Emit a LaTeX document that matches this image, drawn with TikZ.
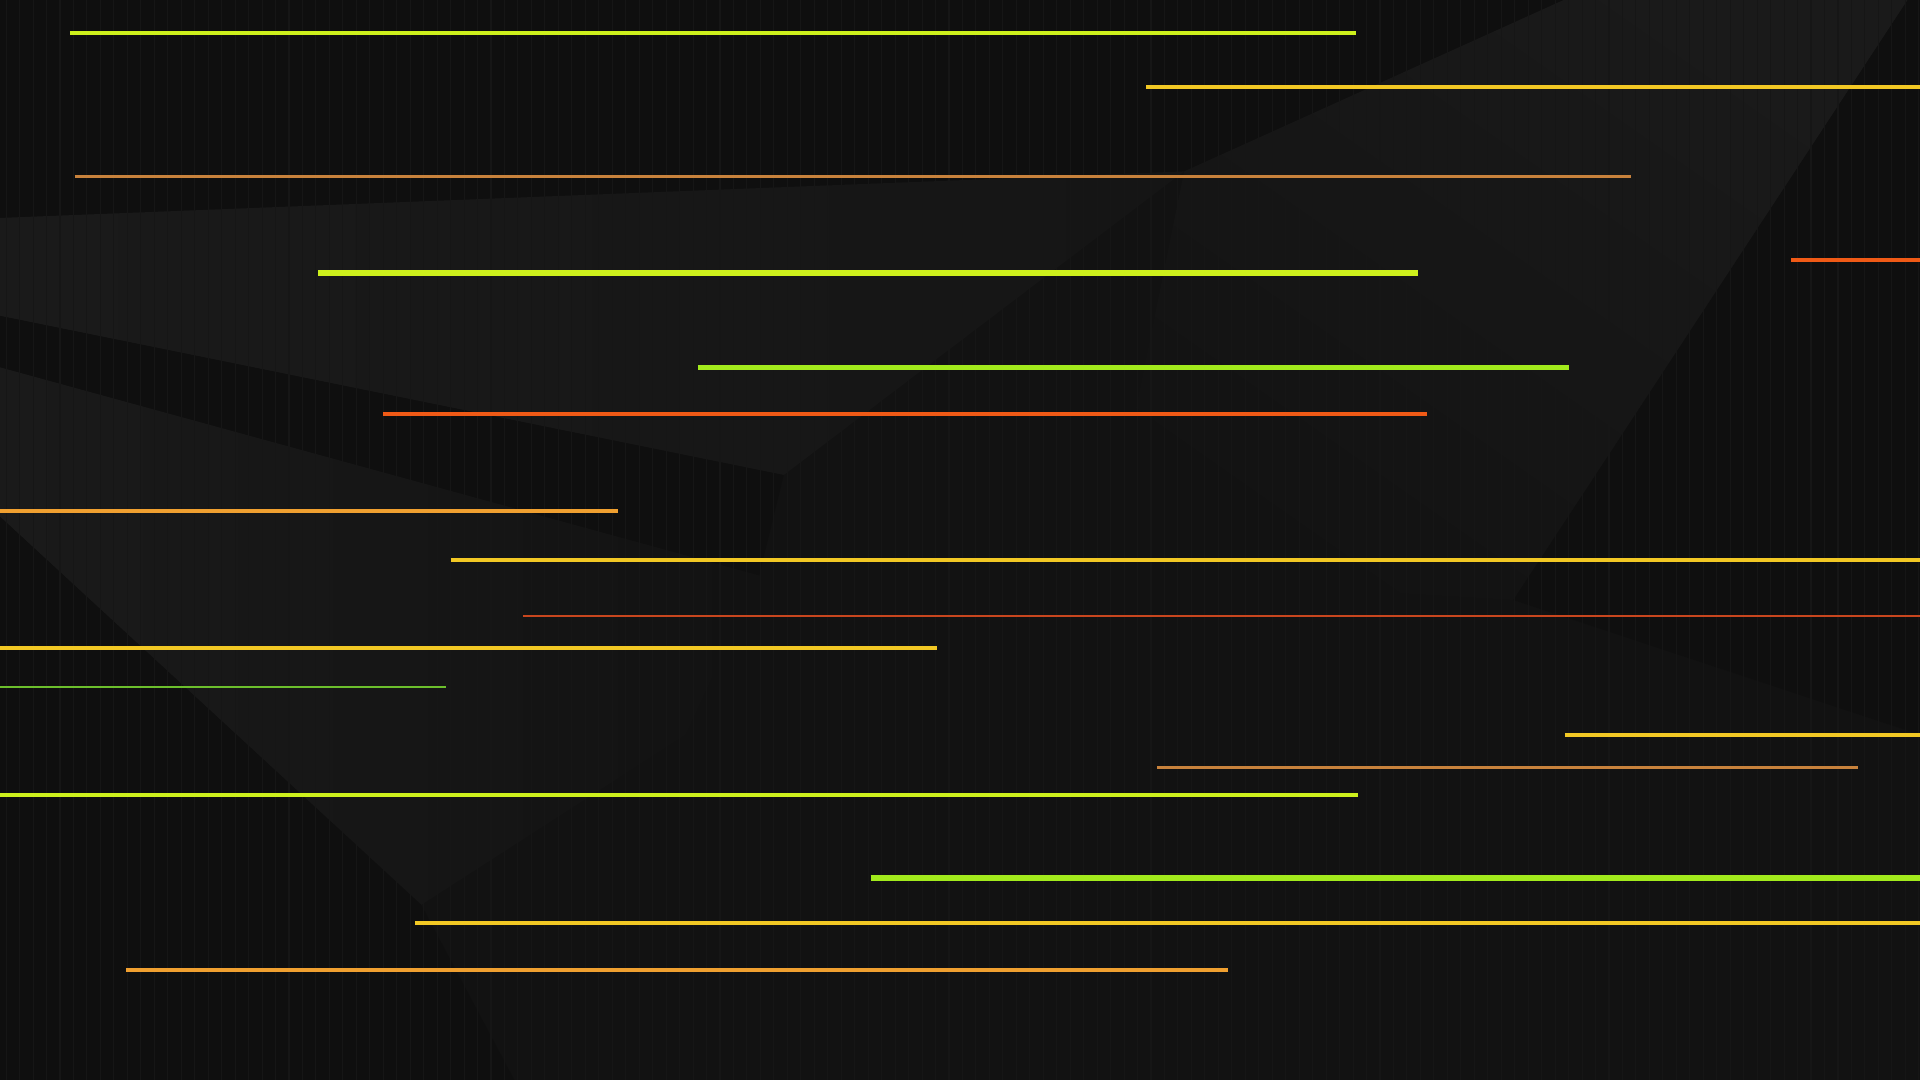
\documentclass[tikz,border=0pt]{standalone}
\begin{document}
\begin{tikzpicture}[x=0.01cm,y=-0.01cm,line cap=butt]
\definecolor{bgbase}{HTML}{121212}
\definecolor{bgdark}{HTML}{0F0F0F}
\definecolor{bglight}{HTML}{1A1A1A}
\definecolor{bgmid}{HTML}{151515}
\definecolor{stripe}{HTML}{161616}
\definecolor{ygreen}{HTML}{CDF01C}
\definecolor{lime}{HTML}{A2EA1C}
\definecolor{gold}{HTML}{F2C824}
\definecolor{brorange}{HTML}{C8823C}
\definecolor{orange}{HTML}{F0A030}
\definecolor{redor}{HTML}{F05A16}
\definecolor{dredor}{HTML}{C8461E}
\definecolor{tgreen}{HTML}{6CBF2C}
\tikzset{
  thinl/.style={line width=0.6pt},
  medl/.style={line width=0.95pt},
  thickl/.style={line width=1.3pt},
}
\useasboundingbox (0,0) rectangle (1568,882);
% background
\fill[bgbase] (0,0) rectangle (1568,882);
% facets
\fill[bgdark] (0,0) -- (1277,0) -- (967,140) -- (0,178) -- cycle;
\shade[top color=bglight, bottom color=bgbase, shading angle=-35]
  (967,140) -- (1277,0) -- (1558,0) -- (1236,490) -- (900,470) -- cycle;
\fill[bgdark] (1558,0) -- (1568,0) -- (1568,600) -- (1236,490) -- cycle;
\shade[left color=bglight, right color=bgmid]
  (0,178) -- (967,140) -- (640,388) -- (0,258) -- cycle;
\fill[bgdark] (0,258) -- (640,388) -- (620,470) -- (0,300) -- cycle;
\shade[left color=bglight, right color=bgbase]
  (0,300) -- (620,470) -- (560,600) -- (344,739) -- (0,422) -- cycle;
\fill[bgdark] (0,422) -- (344,739) -- (420,882) -- (0,882) -- cycle;
% faint vertical stripes
\foreach \sx in {5,16,...,1568} { \draw[stripe,line width=0.25pt] (\sx,0) -- (\sx,882); }
% lines
\draw[ygreen,medl]   (57,27)   -- (1107,27);
\draw[gold,medl]     (936,71)  -- (1568,71);
\draw[brorange,thinl] (61,144) -- (1332,144);
\draw[redor,medl]    (1463,212) -- (1568,212);
\draw[ygreen,thickl] (260,223) -- (1158,223);
\draw[lime,thickl]   (570,300) -- (1281,300);
\draw[redor,medl]    (313,338) -- (1165,338);
\draw[orange,medl]   (0,417)   -- (505,417);
\draw[gold,medl]     (368,457) -- (1568,457);
\draw[dredor,thinl]  (427,503) -- (1568,503);
\draw[gold,medl]     (0,529)   -- (765,529);
\draw[tgreen,thinl]  (0,561)   -- (364,561);
\draw[gold,medl]     (1278,600) -- (1568,600);
\draw[brorange,thinl] (945,627) -- (1517,627);
\draw[ygreen,medl]   (0,649)   -- (1109,649);
\draw[lime,thickl]   (711,717) -- (1568,717);
\draw[gold,medl]     (339,754) -- (1568,754);
\draw[orange,medl]   (103,792) -- (1003,792);
\end{tikzpicture}
\end{document}
